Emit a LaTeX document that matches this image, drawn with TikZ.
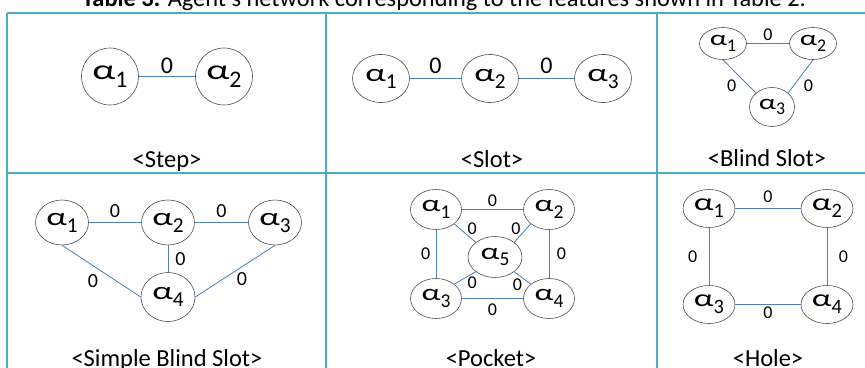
\documentclass[tikz,border=0pt]{standalone}
\usepackage{graphicx}
\usepackage{fontspec}
\setmainfont{Carlito}
\usetikzlibrary{positioning,shapes.geometric}
\definecolor{gridcol}{HTML}{4BACC6}
\definecolor{linkcol}{HTML}{4F81BD}
\newcommand{\al}[1]{\scalebox{1.45}[1]{α}\raisebox{-0.28em}{\scalebox{0.85}{#1}}}

\begin{document}
\begin{tikzpicture}[x=1pt,y=-1pt,
  agent/.style={ellipse,draw=black!70,line width=0.6pt,inner sep=0pt},
  stepag/.style={agent,minimum width=57pt,minimum height=57pt,font=\fontsize{28}{30}\selectfont},
  slotag/.style={agent,minimum width=57pt,minimum height=48pt,font=\fontsize{25}{27}\selectfont},
  blindag/.style={agent,minimum width=47pt,minimum height=32pt,font=\fontsize{21}{23}\selectfont},
  simpleag/.style={agent,minimum width=53pt,minimum height=45pt,font=\fontsize{25}{27}\selectfont},
  pocketag/.style={agent,minimum width=51pt,minimum height=40pt,font=\fontsize{23}{25}\selectfont},
  holeag/.style={agent,minimum width=52pt,minimum height=38pt,font=\fontsize{24}{26}\selectfont},
  link/.style={draw=linkcol,line width=0.85pt},
  wt/.style={inner sep=0pt,font=\fontsize{#1}{#1}\selectfont},
  captext/.style={anchor=base,inner sep=0pt,font=\fontsize{24.5}{26}\selectfont},
  tablerule/.style={draw=gridcol,line width=1.6pt},
]
\useasboundingbox (0,0) rectangle (865,367);
\clip (0,0) rectangle (865,367);

% caption above the table, cut by the page edge
\node[anchor=base west,inner sep=0pt,font=\fontsize{24.4}{26}\selectfont] (title) at (82,6)
  {\textbf{Table 3:} Agent's network corresponding to the features shown in Table 2.};

% table rules
\draw[tablerule] (7,13) -- (880,13);
\draw[tablerule] (7,173) -- (880,173);
\draw[tablerule] (7,13) -- (7,380);
\draw[tablerule] (326,13) -- (326,380);
\draw[tablerule] (657,13) -- (657,380);

% <Step>
\node[stepag] (s1) at (110,76.5) {\al1};
\node[stepag] (s2) at (224,76.5) {\al2};
\draw[link] (s1) -- node[wt=24,above=2.5pt] (s12) {0} (s2);
\node[captext] (capstep) at (167,167) {<Step>};

% <Slot>
\node[slotag] (t1) at (381,78.5) {\al1};
\node[slotag] (t2) at (490,78.5) {\al2};
\node[slotag] (t3) at (603,78.5) {\al3};
\draw[link] (t1) -- node[wt=24,above=4.5pt] (t12) {0} (t2);
\draw[link] (t2) -- node[wt=24,above=4.5pt] (t23) {0} (t3);
\node[captext] (capslot) at (492,167) {<Slot>};

% <Blind Slot>
\node[blindag] (b1) at (723,43.5) {\al1};
\node[blindag] (b2) at (813,43.5) {\al2};
\node[blindag,minimum width=45pt,minimum height=39pt] (b3) at (772,107) {\al3};
\draw[link] (b1) -- node[wt=18,above=2.8pt] (b12) {0} (b2);
\draw[link] (b1.south) -- node[wt=18,below left=4pt] (b13) {0} (b3.north west);
\draw[link] (b2.south) -- node[wt=18,below right=4pt] (b23) {0} (b3.north east);
\node[captext] (capblind) at (767,166) {<Blind Slot>};

% <Simple Blind Slot>
\node[simpleag] (m1) at (62,222.5) {\al1};
\node[simpleag] (m2) at (168,222.5) {\al2};
\node[simpleag] (m3) at (275,222.5) {\al3};
\node[simpleag,minimum width=54pt,minimum height=49pt] (m4) at (168,297) {\al4};
\draw[link] (m1) -- node[wt=20,above=4.7pt] (m12) {0} (m2);
\draw[link] (m2) -- node[wt=20,above=4.7pt] (m23) {0} (m3);
\draw[link] (m2) -- node[wt=20,right=7pt] (m24) {0} (m4);
\draw[link] (m1.south) -- node[wt=20,below left=4pt] (m14) {0} (m4.west);
\draw[link] (m3.south) -- node[wt=20,below right=2pt] (m34) {0} (m4.east);
\node[captext] (capsimple) at (167,366) {<Simple Blind Slot>};

% <Pocket>
\node[pocketag] (p1) at (436,209.5) {\al1};
\node[pocketag] (p2) at (549,209.5) {\al2};
\node[pocketag] (p3) at (436,298.5) {\al3};
\node[pocketag] (p4) at (549,298.5) {\al4};
\node[pocketag,minimum width=54pt,minimum height=41pt] (p5) at (495,257) {\al5};
\draw[link] (p1) -- node[wt=18,above=2.8pt] (p12) {0} (p2);
\draw[link] (p3) -- node[wt=18,below=4.8pt] (p34) {0} (p4);
\draw[link] (p1) -- node[wt=18,left=5.4pt] (p13) {0} (p3);
\draw[link] (p2) -- node[wt=18,right=7.4pt] (p24) {0} (p4);
\draw[link] (p1.south east) -- node[wt=18,pos=.6,above right=0pt] (p15) {0} (p5.north west);
\draw[link] (p2.south west) -- node[wt=18,pos=.6,above left=0pt] (p25) {0} (p5.north east);
\draw[link] (p3.north east) -- node[wt=18,pos=.6,below right=0pt] (p35) {0} (p5.south west);
\draw[link] (p4.north west) -- node[wt=18,pos=.5,below left=0pt] (p45) {0} (p5.south east);
\node[captext] (cappocket) at (491,366) {<Pocket>};

% <Hole>
\node[holeag] (h1) at (709,208.5) {\al1};
\node[holeag] (h2) at (827,208.5) {\al2};
\node[holeag] (h3) at (709,304.5) {\al3};
\node[holeag] (h4) at (827,304.5) {\al4};
\draw[link] (h1) -- node[wt=18,above=5.8pt] (h12) {0} (h2);
\draw[link] (h3) -- node[wt=18,below=1.8pt] (h34) {0} (h4);
\draw[link] (h1) -- node[wt=18,left=11.4pt] (h13) {0} (h3);
\draw[link] (h2) -- node[wt=18,right=11.4pt] (h24) {0} (h4);
\node[captext] (caphole) at (768,366) {<Hole>};
\end{tikzpicture}
\end{document}
